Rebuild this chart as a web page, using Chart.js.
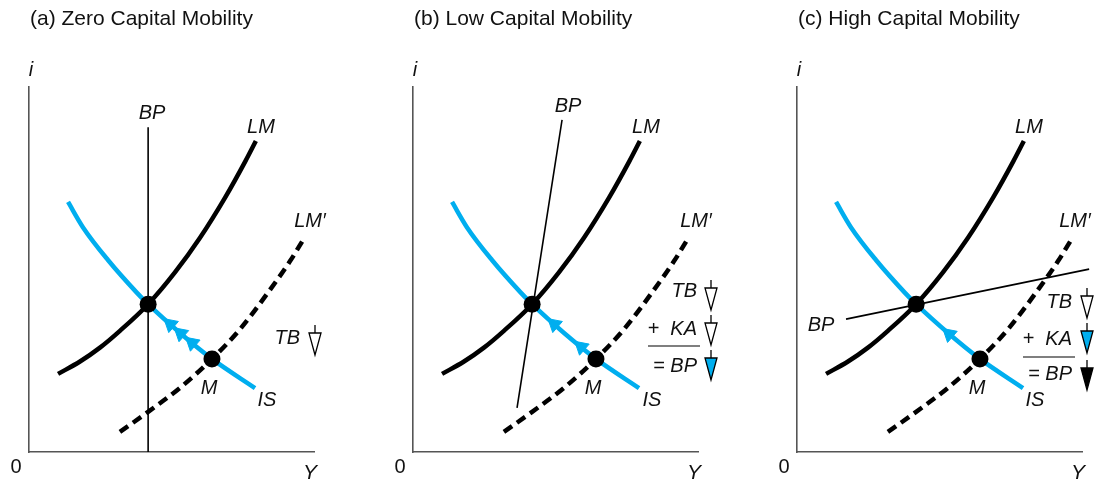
<!DOCTYPE html>
<html><head><meta charset="utf-8">
<script src="https://cdn.jsdelivr.net/npm/chart.js@4.4.1/dist/chart.umd.min.js"></script>
<style>
html,body{margin:0;padding:0;background:#fff}
body{width:1096px;height:481px;overflow:hidden;position:relative}
.p{position:absolute;top:0;height:481px}
</style></head><body>
<div class="p" style="left:0;width:365px"><canvas id="ca"></canvas></div>
<div class="p" style="left:384px;width:365px"><canvas id="cb"></canvas></div>
<div class="p" style="left:768px;width:328px"><canvas id="cc"></canvas></div>
<script>
// ---- data (output Y on x-axis, interest rate i on y-axis, arbitrary units 0-100) ----
const lmY  = [10.2, 17.9, 24.9, 31.9, 41.8, 51.2, 60.0, 68.8, 75.8, 79.6];
const lmI  = [21.4, 24.8, 28.6, 33.2, 40.5, 49.2, 58.7, 69.7, 79.5, 85.2];
const lm2Y = [31.9, 41.8, 53.0, 64.2, 74.0, 83.5, 91.6, 96.8];
const lm2I = [5.5, 11.0, 17.6, 25.5, 33.6, 43.3, 52.3, 58.9];
const isY  = [13.7, 18.9, 27.7, 37.9, 41.8, 53.0, 64.2, 79.3];
const isI  = [68.5, 61.6, 52.6, 43.6, 40.5, 32.6, 25.5, 17.5];
const eqY  = [41.8, 64.2];          // initial equilibrium, point M
const eqI  = [40.5, 25.5];
const bpAY = [41.8, 41.8];  const bpAI = [0, 89.0];
const bpBY = [36.5, 52.3];  const bpBI = [12.1, 91.0];
const bpCY = [17.2, 102.5]; const bpCI = [36.4, 50.1];
const arrAY = [49.6, 53.2, 57.2]; const arrAI = [35.0, 32.5, 29.9];
const arrBY = [49.6, 59.0];       const arrBI = [35.0, 28.8];
const arrCY = [53.4];             const arrCI = [32.3];
const titles = ['(a) Zero Capital Mobility', '(b) Low Capital Mobility', '(c) High Capital Mobility'];

const BLUE = '#00aeef';
const pts = (xs, ys) => xs.map((x, i) => ({x, y: ys[i]}));

function drawTri(ctx, cx, top, fill){
  ctx.save();
  ctx.strokeStyle = '#000'; ctx.lineWidth = 1.3;
  ctx.beginPath(); ctx.moveTo(cx, top); ctx.lineTo(cx, top + 8); ctx.stroke();
  ctx.beginPath();
  ctx.moveTo(cx - 6, top + 8); ctx.lineTo(cx + 6, top + 8); ctx.lineTo(cx, top + 30); ctx.closePath();
  ctx.fillStyle = fill; ctx.fill(); ctx.stroke();
  ctx.restore();
}

const textPlugin = {
  id: 'txt',
  afterDraw(chart, args, o){
    const ctx = chart.ctx, L = chart.chartArea.left;
    ctx.save();
    ctx.fillStyle = '#111';
    ctx.textBaseline = 'middle';
    ctx.font = '21px "Liberation Sans", Arial, sans-serif';
    ctx.textAlign = 'left';
    ctx.fillText(o.title, L + 1, 19);
    ctx.font = '20px "Liberation Sans", Arial, sans-serif';
    ctx.textAlign = 'center';
    ctx.fillText('0', L - 13, 467);
    ctx.font = 'italic 21px "Liberation Sans", Arial, sans-serif';
    ctx.fillText('Y', L + 281, 473);
    ctx.font = 'italic 20px "Liberation Sans", Arial, sans-serif';
    ctx.fillText('i', L + 2, 70);
    for (const t of o.labels){
      ctx.textAlign = t[3] || 'center';
      ctx.fillText(t[0], L + t[1], t[2]);
    }
    if (o.rule){
      ctx.strokeStyle = '#000'; ctx.lineWidth = 1.2;
      ctx.beginPath(); ctx.moveTo(L + o.rule[0], o.rule[2]); ctx.lineTo(L + o.rule[1], o.rule[2]); ctx.stroke();
    }
    for (const tr of o.tris) drawTri(ctx, L + tr[0], tr[1], tr[2]);
    ctx.restore();
  }
};

function makeChart(id, padRight, bp, arr, title, labels, rule, tris){
  const ds = [
    {data: pts(eqY, eqI), showLine:false, pointRadius:8.5, pointHoverRadius:8.5, backgroundColor:'#000', borderColor:'#000', borderWidth:0, order:0},
    {data: pts(arr[0], arr[1]), showLine:false, pointStyle:'triangle', pointRotation:-49, pointRadius:8.5, backgroundColor:BLUE, borderColor:BLUE, borderWidth:1, order:1},
    {data: pts(isY, isI), showLine:true, pointRadius:0, borderColor:BLUE, borderWidth:4.5, cubicInterpolationMode:'monotone', order:2},
    {data: pts(lmY, lmI), showLine:true, pointRadius:0, borderColor:'#000', borderWidth:4.5, cubicInterpolationMode:'monotone', order:3},
    {data: pts(lm2Y, lm2I), showLine:true, pointRadius:0, borderColor:'#000', borderWidth:4.5, borderDash:[10,6], cubicInterpolationMode:'monotone', order:4},
    {data: pts(bp[0], bp[1]), showLine:true, pointRadius:0, borderColor:'#000', borderWidth:1.6, clip:false, order:5}
  ];
  const axis = (isX) => ({
    type:'linear', min:0, max:100,
    grid:{display:false, drawTicks:false},
    ticks:{display:false},
    border:{display:true, color:'#555', width:1.6},
    afterFit(s){ if (isX) s.height = 0; else s.width = 0; }
  });
  return new Chart(document.getElementById(id), {
    type:'scatter',
    data:{datasets: ds},
    options:{
      responsive:true, maintainAspectRatio:false, animation:false,
      layout:{padding:{left:29, right:padRight, top:87, bottom:29}},
      scales:{x:axis(true), y:axis(false)},
      plugins:{legend:{display:false}, tooltip:{enabled:false},
        txt:{title, labels, rule, tris}}
    },
    plugins:[textPlugin]
  });
}

makeChart('ca', 51, [bpAY, bpAI], [arrAY, arrAI], titles[0],
  [['BP',123,113],['LM',232,127],['LM\u2032',281,221],['M',180,388],['IS',238,400],['TB',271,338,'right']],
  null, [[286,325,'#fff']]);
makeChart('cb', 51, [bpBY, bpBI], [arrBY, arrBI], titles[1],
  [['BP',155,106],['LM',233,127],['LM\u2032',283,221],['M',180,388],['IS',239,400],
   ['TB',284,291,'right'],['+  KA',284,329,'right'],['= BP',284,366,'right']],
  [235,287,346], [[298,280,'#fff'],[298,315,'#fff'],[298,350,BLUE]]);
makeChart('cc', 14, [bpCY, bpCI], [arrCY, arrCI], titles[2],
  [['BP',24,325],['LM',232,127],['LM\u2032',278,221],['M',180,388],['IS',238,400],
   ['TB',275,302,'right'],['+  KA',275,339,'right'],['= BP',275,374,'right']],
  [226,278,357], [[290,288,'#fff'],[290,323,BLUE],[290,360,'#000']]);
</script>
</body></html>
